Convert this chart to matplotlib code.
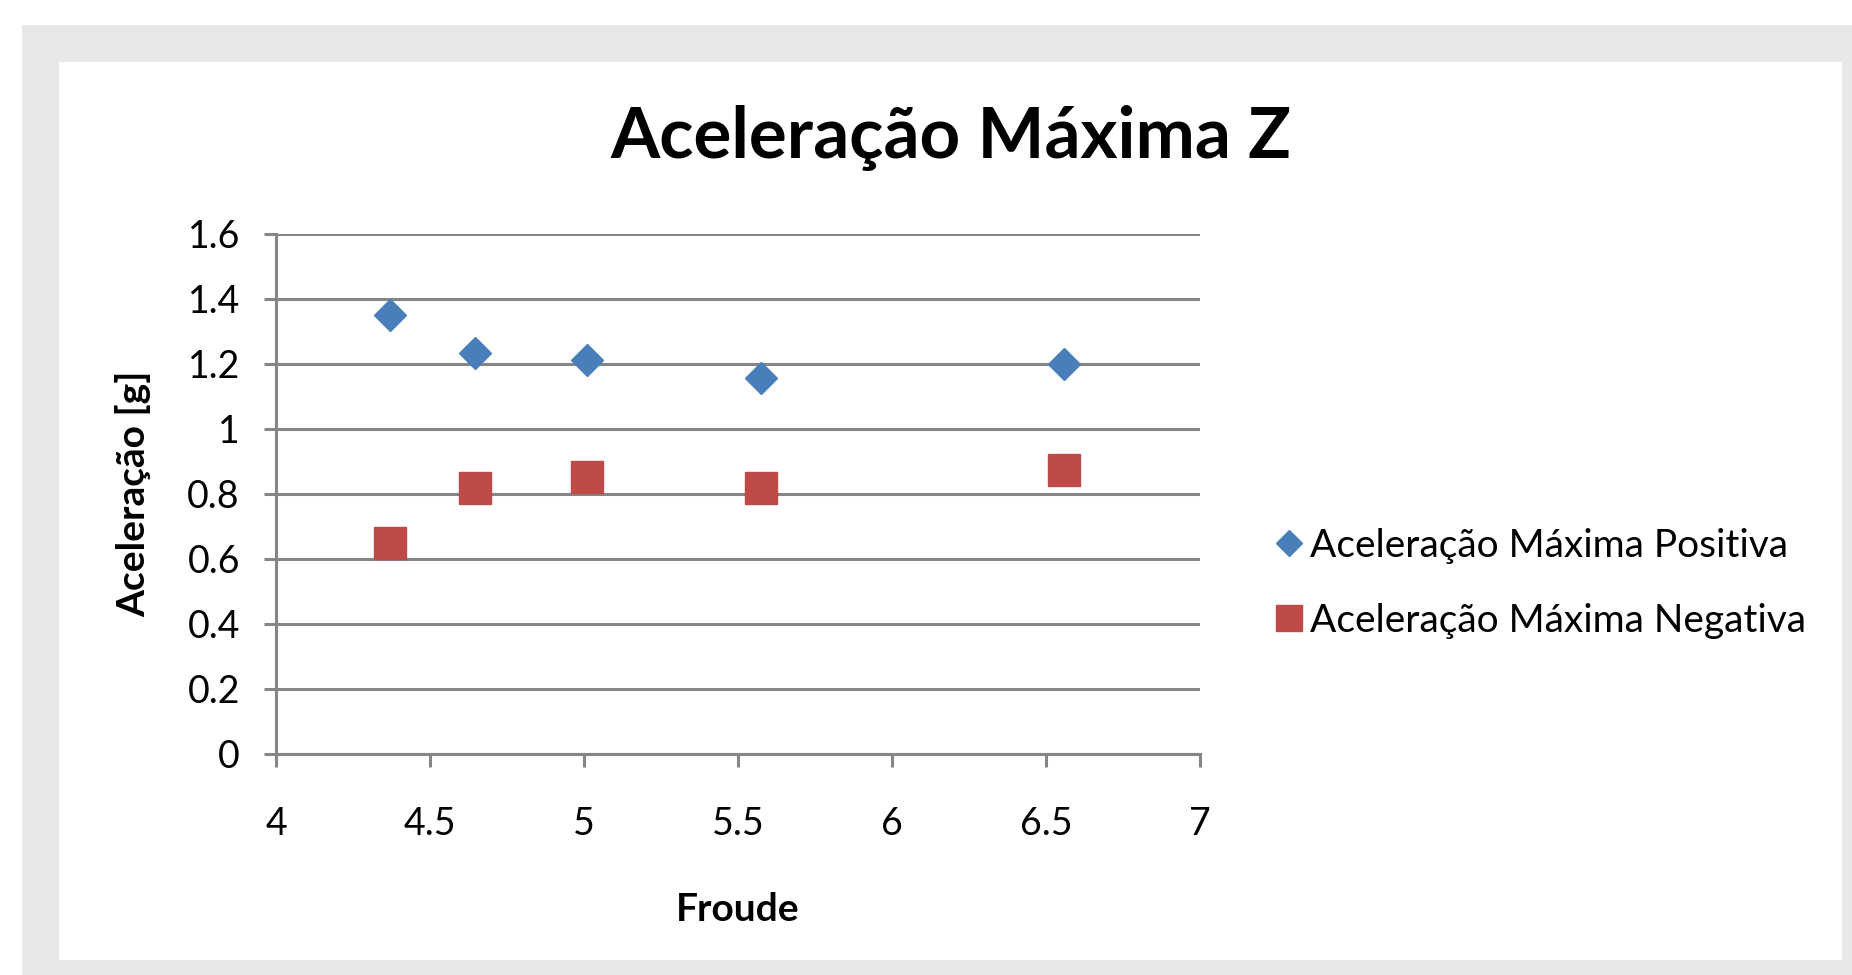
import matplotlib
matplotlib.use("Agg")
import matplotlib.pyplot as plt
from matplotlib.patches import Rectangle

plt.rcParams['font.family'] = ['Lato', 'DejaVu Sans']

froude = [4.37, 4.645, 5.01, 5.575, 6.56]
acc_pos = [1.35, 1.233, 1.211, 1.156, 1.20]
acc_neg = [0.647, 0.818, 0.851, 0.818, 0.873]
x_ticks = [4, 4.5, 5, 5.5, 6, 6.5, 7]
x_labels = ["4", "4.5", "5", "5.5", "6", "6.5", "7"]
y_ticks = [0, 0.2, 0.4, 0.6, 0.8, 1.0, 1.2, 1.4, 1.6]
y_labels = ["0", "0.2", "0.4", "0.6", "0.8", "1", "1.2", "1.4", "1.6"]

W, H = 1852, 975
fig = plt.figure(figsize=(W / 100, H / 100), dpi=100)
fig.patch.set_facecolor("white")

# grey frame and white chart area (pixel coords -> figure fraction)
fig.patches.append(Rectangle((22 / W, 0), 1 - 22 / W, (H - 25) / H,
                             transform=fig.transFigure, facecolor="#E8E8E8",
                             edgecolor="none", zorder=-2))
fig.patches.append(Rectangle((59 / W, (H - 960) / H), (1842 - 59) / W, (960 - 62) / H,
                             transform=fig.transFigure, facecolor="white",
                             edgecolor="none", zorder=-1))

ax = fig.add_axes([276 / W, (H - 753.5) / H, (1200 - 276) / W, (753.5 - 234) / H])
ax.set_facecolor("none")

ax.plot(froude, acc_pos, linestyle="none", marker="D", markersize=16,
        color="#4A7EBB", label="Aceleração Máxima Positiva", zorder=3)
ax.plot(froude, acc_neg, linestyle="none", marker="s", markersize=23,
        color="#BE4B48", label="Aceleração Máxima Negativa", zorder=3)

ax.set_xlim(4, 7)
ax.set_ylim(0, 1.6)
ax.set_xticks(x_ticks)
ax.set_xticklabels(x_labels)
ax.set_yticks(y_ticks)
ax.set_yticklabels(y_labels)

grid_c = "#868686"
ax.grid(axis="y", color=grid_c, linewidth=2.2, zorder=1)
ax.set_axisbelow(True)
for s in ["top", "right"]:
    ax.spines[s].set_visible(False)
for s in ["left", "bottom"]:
    ax.spines[s].set_color(grid_c)
    ax.spines[s].set_linewidth(2.2)
ax.tick_params(axis="both", colors=grid_c, width=2.2, length=9, labelcolor="black",
               labelsize=27)
ax.tick_params(axis="x", pad=29)
ax.tick_params(axis="y", pad=17)

ax.set_xlabel("Froude", fontsize=28, fontweight="bold", labelpad=36)
ax.set_ylabel("Aceleração [g]", fontsize=28, fontweight="bold", labelpad=26)

fig.text(951 / W, (H - 138) / H, "Aceleração Máxima Z", fontsize=51, fontweight="bold",
         ha="center", va="center")

ax.legend(loc="center left", bbox_to_anchor=(1.035, 0.328), frameon=False,
          fontsize=28, handletextpad=0.0, labelspacing=1.0, markerscale=0.8,
          handlelength=1.1)

fig.savefig("out.png", dpi=100)
